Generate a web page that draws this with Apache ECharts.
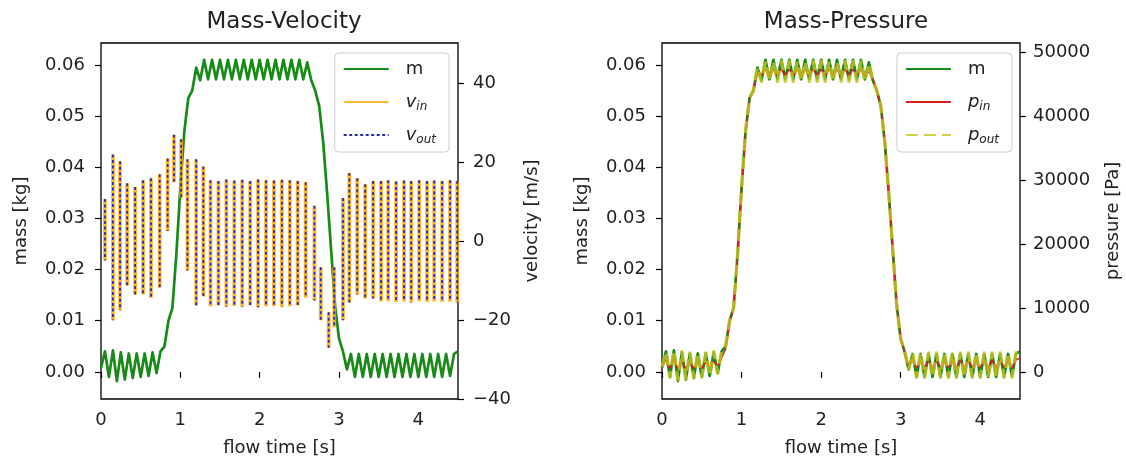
<!DOCTYPE html>
<html><head><meta charset="utf-8">
<script src="https://cdn.jsdelivr.net/npm/echarts@6/dist/echarts.min.js"></script>
<style>html,body{margin:0;padding:0;background:#fff}#c{width:1126px;height:466px}</style>
</head><body><div id="c"></div><script>
// ---- tick labels ----
const timeTicks = [0, 1, 2, 3, 4];
const massTicks = [0, 0.01, 0.02, 0.03, 0.04, 0.05, 0.06];
const velTicks = [-40, -20, 0, 20, 40];
const presTicks = [0, 10000, 20000, 30000, 40000, 50000];

// ---- mass / pressure sample spacing (s) ----
const massStep = 0.05;

// ---- series values ----
const mass = [
  0.0008, 0.0040, -0.0010, 0.0042, -0.0018, 0.0038, -0.0015, 0.0036, -0.0012, 0.0036,
  -0.0010, 0.0036, -0.0008, 0.0038, -0.0002, 0.0040, 0.0050, 0.0100, 0.0125, 0.0230,
  0.0360, 0.0470, 0.0535, 0.0550, 0.0595, 0.0570, 0.0610, 0.0572, 0.0610, 0.0572,
  0.0610, 0.0572, 0.0610, 0.0572, 0.0610, 0.0572, 0.0610, 0.0572, 0.0610, 0.0572,
  0.0610, 0.0572, 0.0610, 0.0572, 0.0610, 0.0572, 0.0610, 0.0572, 0.0610, 0.0572,
  0.0610, 0.0572, 0.0605, 0.0570, 0.0550, 0.0520, 0.0450, 0.0350, 0.0240, 0.0130,
  0.0065, 0.0040, 0.0005, 0.0035, -0.0010, 0.0035, -0.0010, 0.0035, -0.0010, 0.0035,
  -0.0010, 0.0035, -0.0010, 0.0035, -0.0010, 0.0035, -0.0010, 0.0035, -0.0010, 0.0035,
  -0.0010, 0.0035, -0.0010, 0.0035, -0.0010, 0.0035, -0.0010, 0.0035, -0.0008, 0.0035,
  0.0040
];

// velocity: one vertical swing per output time, with its high / low extremes
const velTime = [
  0.05, 0.15, 0.24, 0.33, 0.43, 0.53, 0.63, 0.74, 0.84, 0.92,
  1.01, 1.09, 1.20, 1.29, 1.38, 1.48, 1.58, 1.68, 1.78, 1.88,
  1.98, 2.08, 2.18, 2.28, 2.38, 2.48, 2.58, 2.69, 2.77, 2.87,
  2.94, 3.05, 3.13, 3.23, 3.33, 3.43, 3.53, 3.62, 3.72, 3.82,
  3.91, 4.01, 4.11, 4.20, 4.30, 4.40, 4.49
];
const vInHigh = [
  10.7, 22, 20.3, 14.7, 13.8, 15.5, 16, 17, 21, 27,
  25.9, 20.8, 20.8, 19, 15.5, 15.3, 15.7, 15.4, 15.6, 15.3,
  15.7, 15.5, 15.4, 15.6, 15.5, 15.3, 15, 9, -6.6, -18,
  -6.6, 11, 17.3, 16, 14.5, 15.3, 15.3, 15.5, 15.2, 15.4,
  15.3, 15.5, 15.3, 15.4, 15.3, 15.5, 15.3
];
const vInLow = [
  -4.9, -20, -17.5, -11.2, -13.5, -13.5, -14.3, -11.7, 2.6, 15,
  11, -7.4, -16.3, -14, -16.5, -16.3, -16.6, -16.4, -16.6, -16.3,
  -16.7, -16.5, -16.4, -16.6, -16.5, -16.3, -14.3, -15, -20, -27,
  -21.8, -20, -15.5, -13.5, -14.5, -14.5, -15.3, -15.2, -15.4, -15.3,
  -15.5, -15.2, -15.4, -15.3, -15.4, -15.3, -15.5
];
const vOutHigh = [
  10.7, 22, 20.3, 14.7, 13.8, 15.5, 16, 17, 21, 27,
  25.9, 20.8, 20.8, 19, 15.5, 15.3, 15.7, 15.4, 15.6, 15.3,
  15.7, 15.5, 15.4, 15.6, 15.5, 15.3, 15, 9, -6.6, -18,
  -6.6, 11, 17.3, 16, 14.5, 15.3, 15.3, 15.5, 15.2, 15.4,
  15.3, 15.5, 15.3, 15.4, 15.3, 15.5, 15.3
];
const vOutLow = [
  -4.9, -20, -17.5, -11.2, -13.5, -13.5, -14.3, -11.7, 2.6, 15,
  11, -7.4, -16.3, -14, -16.5, -16.3, -16.6, -16.4, -16.6, -16.3,
  -16.7, -16.5, -16.4, -16.6, -16.5, -16.3, -14.3, -15, -20, -27,
  -21.8, -20, -15.5, -13.5, -14.5, -14.5, -15.3, -15.2, -15.4, -15.3,
  -15.5, -15.2, -15.4, -15.3, -15.4, -15.3, -15.5
];

const pIn = [
  900, 1900, 600, 2000, 400, 1700, 500, 1600, 600, 1600,
  600, 1600, 700, 1700, 1000, 2200, 3600, 7600, 10200, 18200,
  28600, 37400, 42600, 44200, 46600, 46300, 47300, 46300, 47300, 46300,
  47300, 46300, 47300, 46300, 47300, 46300, 47300, 46300, 47300, 46300,
  47300, 46300, 47300, 46300, 47300, 46300, 47300, 46300, 47300, 46300,
  47300, 46300, 47000, 45900, 44000, 41600, 36000, 28000, 19200, 10400,
  5200, 3000, 1000, 1900, 700, 1900, 700, 1900, 700, 1900,
  700, 1900, 700, 1900, 700, 1900, 700, 1900, 700, 1900,
  700, 1900, 700, 1900, 700, 1900, 700, 1900, 700, 1900,
  2200
];
const pOut = [
  800, 3200, -800, 3400, -1200, 3200, -1000, 3000, -900, 3000,
  -800, 3000, -600, 3200, -200, 3400, 4000, 8000, 10000, 18400,
  28800, 37600, 42800, 44000, 47600, 45400, 48500, 45400, 48500, 45400,
  48500, 45400, 48500, 45400, 48500, 45400, 48500, 45400, 48500, 45400,
  48500, 45400, 48500, 45400, 48500, 45400, 48500, 45400, 48500, 45400,
  48500, 45400, 48200, 45400, 44000, 41600, 36000, 28000, 19200, 10400,
  5200, 3200, 400, 3000, -800, 3000, -800, 3000, -800, 3000,
  -800, 3000, -800, 3000, -800, 3000, -800, 3000, -800, 3000,
  -800, 3000, -800, 3000, -800, 3000, -800, 3000, -800, 3000,
  3200
];

const FONT = 'DejaVu Sans';
const TXT = '#222';
function pairs(vals, step) { return vals.map((v, i) => [Math.round(i * step * 1000) / 1000, v]); }
// each swing is its own stroke; a null point breaks the line between swings
function swings(times, high, low) {
  const out = [];
  times.forEach((t, i) => { out.push([t, high[i]], [t, low[i]], [t, null]); });
  return out;
}
const minus = v => (v < 0 ? '\u2212' : '') + Math.abs(v);

function xAx(grid) {
  return {
    type: 'value', gridIndex: grid, min: 0, max: 4.5,
    name: 'flow time [s]', nameLocation: 'middle', nameGap: 40,
    nameTextStyle: { fontFamily: FONT, fontSize: 18, color: TXT },
    axisLine: { show: false },
    axisTick: { show: true, length: 6, lineStyle: { color: '#000', width: 1.2 }, customValues: timeTicks },
    axisLabel: { fontFamily: FONT, fontSize: 18, color: TXT, margin: 12, customValues: timeTicks },
    splitLine: { show: false }
  };
}
function yAx(grid, pos, min, max, ticks, fmt, name, gap, margin) {
  return {
    type: 'value', gridIndex: grid, position: pos, min: min, max: max,
    name: name, nameLocation: 'middle', nameGap: gap, nameRotate: 90,
    nameTextStyle: { fontFamily: FONT, fontSize: 18, color: TXT },
    axisLine: { show: false },
    axisTick: { show: true, length: 6, lineStyle: { color: '#000', width: 1.2 }, customValues: ticks },
    axisLabel: { fontFamily: FONT, fontSize: 18, color: TXT, margin: margin, customValues: ticks, formatter: fmt },
    splitLine: { show: false }
  };
}
const rich = {
  it: { fontFamily: FONT, fontSize: 18, fontStyle: 'italic', color: TXT, lineHeight: 22 },
  sub: { fontFamily: FONT, fontSize: 12, fontStyle: 'italic', color: TXT, lineHeight: 12, verticalAlign: 'bottom' }
};
function legendFmt(name) {
  const m = name.match(/^(\w)_(\w+)$/);
  if (m) return '{it|' + m[1] + '}{sub|' + m[2] + '}';
  return name;
}
function legend(right, names) {
  return {
    orient: 'vertical', right: right, top: 53, data: names,
    itemWidth: 45, itemHeight: 14, itemGap: 11,
    padding: [5, 13, 6, 8],
    backgroundColor: 'rgba(255,255,255,0.8)', borderColor: '#cccccc', borderWidth: 1, borderRadius: 4,
    itemStyle: { opacity: 0 },
    formatter: legendFmt,
    textStyle: { fontFamily: FONT, fontSize: 18, color: TXT, lineHeight: 22, padding: [0, 0, 0, 12], rich: rich }
  };
}
function line(name, data, xi, yi, color, width, type, opacity, z) {
  return {
    type: 'line', name: name, data: data, xAxisIndex: xi, yAxisIndex: yi,
    symbol: 'none', smooth: false, animation: false, z: z, connectNulls: false,
    lineStyle: { color: color, width: width, type: type, opacity: opacity, join: 'round', cap: 'butt' },
    itemStyle: { color: color }
  };
}

const chart = echarts.init(document.getElementById('c'), null, { renderer: 'canvas' });
chart.setOption({
  backgroundColor: '#ffffff',
  animation: false,
  title: [
    { text: 'Mass-Velocity', left: 279, top: 6, textAlign: 'center',
      textStyle: { fontFamily: FONT, fontSize: 23, fontWeight: 'normal', color: TXT } },
    { text: 'Mass-Pressure', left: 841, top: 6, textAlign: 'center',
      textStyle: { fontFamily: FONT, fontSize: 23, fontWeight: 'normal', color: TXT } }
  ],
  grid: [
    { left: 101, top: 43, width: 357, height: 356, show: true, borderColor: '#000', borderWidth: 1.3, backgroundColor: 'transparent' },
    { left: 662, top: 43, width: 358, height: 356, show: true, borderColor: '#000', borderWidth: 1.3, backgroundColor: 'transparent' }
  ],
  legend: [legend(677, ['m', 'v_in', 'v_out']), legend(114, ['m', 'p_in', 'p_out'])],
  xAxis: [xAx(0), xAx(1)],
  yAxis: [
    yAx(0, 'left', -0.0053, 0.0643, massTicks, v => v.toFixed(2), 'mass [kg]', 71, 16),
    yAx(0, 'right', -40, 50.3, velTicks, minus, 'velocity [m/s]', 65, 15),
    yAx(1, 'left', -0.0053, 0.0643, massTicks, v => v.toFixed(2), 'mass [kg]', 71, 16),
    yAx(1, 'right', -4200, 51400, presTicks, v => String(v), 'pressure [Pa]', 84, 13)
  ],
  series: [
    line('m', pairs(mass, massStep), 0, 0, '#178a17', 2.7, 'solid', 1, 2),
    line('v_in', swings(velTime, vInHigh, vInLow), 0, 1, '#ffa500', 3.8, 'solid', 0.8, 3),
    line('v_out', swings(velTime, vOutHigh, vOutLow), 0, 1, '#2b2ba8', 1.8, [3, 2.5], 1, 4),
    line('m', pairs(mass, massStep), 1, 2, '#178a17', 2.7, 'solid', 1, 2),
    line('p_in', pairs(pIn, massStep), 1, 3, '#d42020', 1.5, 'solid', 1, 3),
    line('p_out', pairs(pOut, massStep), 1, 3, '#c4c420', 3.4, [12, 6], 0.8, 4)
  ]
});
</script></body></html>
